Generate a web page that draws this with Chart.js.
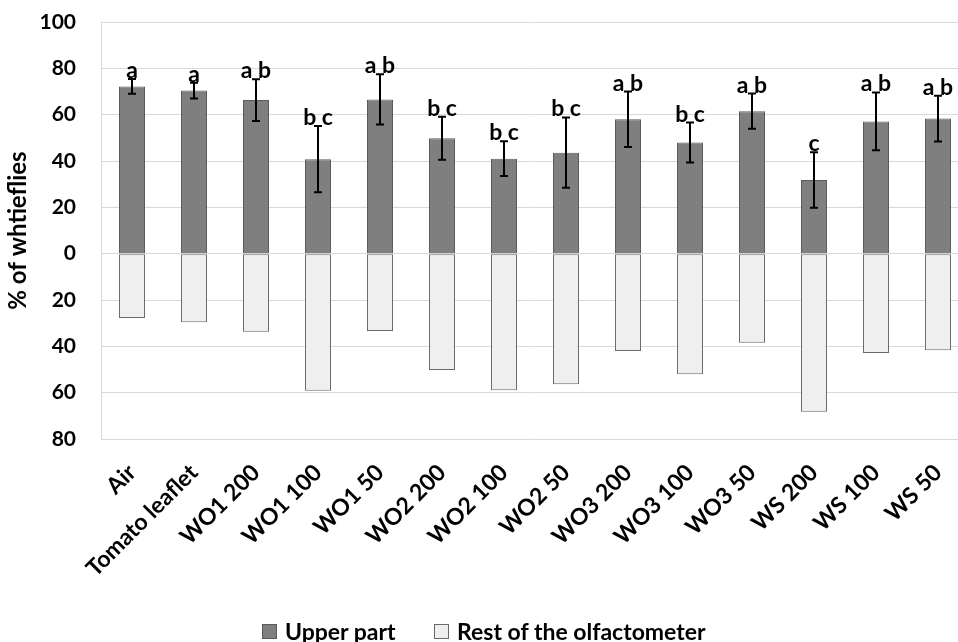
<!DOCTYPE html>
<html>
<head>
<meta charset="utf-8">
<script src="https://cdn.jsdelivr.net/npm/chart.js@4/dist/chart.umd.min.js"></script>
<style>
  html, body { margin: 0; padding: 0; background: #fff; overflow: hidden; }
  #wrap { position: relative; width: 958px; height: 642px; overflow: hidden; }
  #chart { position: absolute; left: 0; top: 0; }
  #legend { position: absolute; left: 0; top: 620px; width: 958px; height: 22px;
            font: bold 23px/22px Lato, sans-serif; color: #000; }
  .item { position: absolute; top: 0; height: 22px; display: flex; align-items: center; white-space: nowrap; }
  .box { width: 15px; height: 15px; margin-right: 8px; box-sizing: border-box; }
</style>
</head>
<body>
<div id="wrap">
  <canvas id="chart" width="970" height="642"></canvas>
  <div id="legend">
    <div class="item" style="left:262px"><span class="box" style="background:#7f7f7f;border:1px solid #5a5a5a"></span>Upper part</div>
    <div class="item" style="left:434px"><span class="box" style="background:#efefef;border:1px solid #6a6a6a"></span>Rest of the olfactometer</div>
  </div>
</div>
<script>
// Treatments tested in the olfactometer
const categories = ['Air', 'Tomato leaflet', 'WO1 200', 'WO1 100', 'WO1 50', 'WO2 200', 'WO2 100',
                    'WO2 50', 'WO3 200', 'WO3 100', 'WO3 50', 'WS 200', 'WS 100', 'WS 50'];

// % of whiteflies found in the upper part (mean) and its error
const upperPart = [72.2, 70.4, 66.3, 40.8, 66.6, 49.8, 41.0, 43.6, 58.0, 48.0, 61.5, 31.8, 57.1, 58.3];
const upperErr  = [3.2, 3.4, 9.0, 14.3, 10.8, 9.3, 7.5, 15.2, 12.0, 8.6, 7.6, 12.0, 12.5, 9.9];

// % of whiteflies in the rest of the olfactometer (drawn downward)
const restPart  = [27.8, 29.6, 33.7, 59.2, 33.4, 50.2, 59.0, 56.4, 42.0, 52.0, 38.5, 68.2, 42.9, 41.7];

// Significance letters above each error bar
const letters = ['a', 'a', 'a b', 'b c', 'a b', 'b c', 'b c', 'b c', 'a b', 'b c', 'a b', 'c', 'a b', 'a b'];

// Y axis ticks (shown as absolute values on both sides of zero)
const yMin = -80, yMax = 100, yStep = 20;

const FONT = 'Lato, sans-serif';

const errorBarsAndLetters = {
  id: 'errorBarsAndLetters',
  afterDatasetsDraw(chart) {
    const { ctx, scales: { y } } = chart;
    const meta = chart.getDatasetMeta(0);
    ctx.save();
    ctx.strokeStyle = '#000';
    ctx.lineWidth = 2;
    ctx.fillStyle = '#000';
    ctx.font = 'bold 23px ' + FONT;
    ctx.textAlign = 'center';
    ctx.textBaseline = 'alphabetic';
    meta.data.forEach((bar, i) => {
      const x = Math.round(bar.x);
      const top = y.getPixelForValue(upperPart[i] + upperErr[i]);
      const bot = y.getPixelForValue(upperPart[i] - upperErr[i]);
      ctx.beginPath();
      ctx.moveTo(x, top); ctx.lineTo(x, bot);
      ctx.moveTo(x - 4, top); ctx.lineTo(x + 4, top);
      ctx.moveTo(x - 4, bot); ctx.lineTo(x + 4, bot);
      ctx.stroke();
      ctx.fillText(letters[i], x, top - 1);
    });
    ctx.restore();
  }
};

new Chart(document.getElementById('chart'), {
  type: 'bar',
  data: {
    labels: categories,
    datasets: [
      {
        label: 'Upper part',
        data: upperPart,
        backgroundColor: '#7f7f7f',
        borderColor: '#5a5a5a',
        borderWidth: 1,
        borderSkipped: false,
        barPercentage: 1,
        categoryPercentage: 0.42
      },
      {
        label: 'Rest of the olfactometer',
        data: restPart.map(v => -v),
        backgroundColor: '#efefef',
        borderColor: '#6a6a6a',
        borderWidth: 1,
        borderSkipped: false,
        barPercentage: 1,
        categoryPercentage: 0.42
      }
    ]
  },
  options: {
    responsive: false,
    animation: false,
    layout: { padding: { left: 0, right: 1, top: 22, bottom: 53 } },
    plugins: {
      legend: { display: false },
      tooltip: { enabled: false }
    },
    scales: {
      x: {
        stacked: true,
        grid: { display: false },
        border: { display: false },
        ticks: {
          minRotation: 45,
          maxRotation: 45,
          padding: 12,
          color: '#000',
          font: { family: FONT, size: 23, weight: 'bold' }
        },
        afterFit(scale) { scale.height = 150; }
      },
      y: {
        stacked: true,
        min: yMin,
        max: yMax,
        grid: { color: '#d9d9d9', lineWidth: 1, drawTicks: false },
        border: { display: true, color: '#d9d9d9' },
        ticks: {
          stepSize: yStep,
          padding: 25,
          color: '#000',
          font: { family: FONT, size: 21, weight: 'bold' },
          callback: v => Math.abs(v)
        },
        title: {
          display: true,
          text: '% of whtieflies',
          color: '#000',
          font: { family: FONT, size: 24, weight: 'bold' },
          padding: { top: 4, bottom: 0 }
        },
        afterFit(scale) {
          scale.width = 101;
          // only reserve room for half a tick label above/below the plot
          scale.paddingTop = 12;
          scale.paddingBottom = 12;
        }
      }
    }
  },
  plugins: [errorBarsAndLetters]
});
</script>
</body>
</html>
